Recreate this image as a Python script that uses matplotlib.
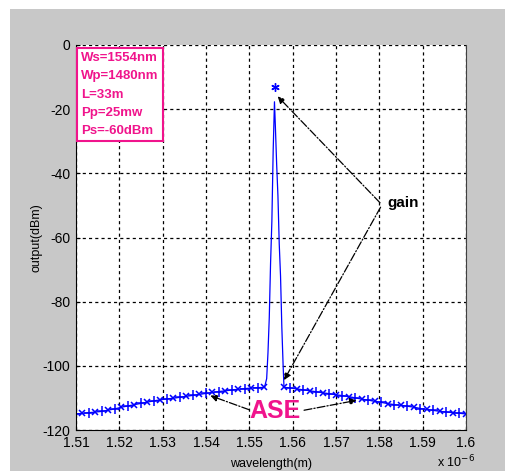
import matplotlib
matplotlib.use('Agg')
import matplotlib.pyplot as plt
from matplotlib.patches import Rectangle
from matplotlib import font_manager
import numpy as np

# ASE spectrum (wavelength in um, power in dBm), left and right of the signal
ase_x = [1.5100, 1.5115, 1.5130, 1.5145, 1.5160, 1.5175, 1.5190, 1.5205, 1.5220, 1.5235,
         1.5250, 1.5265, 1.5280, 1.5295, 1.5310, 1.5325, 1.5340, 1.5355, 1.5370, 1.5385,
         1.5400, 1.5415, 1.5430, 1.5445, 1.5460, 1.5475, 1.5490, 1.5505, 1.5520, 1.5535,
         np.nan,
         1.5580, 1.5595, 1.5610, 1.5625, 1.5640, 1.5655, 1.5670, 1.5685, 1.5700, 1.5715,
         1.5730, 1.5745, 1.5760, 1.5775, 1.5790, 1.5805, 1.5820, 1.5835, 1.5850, 1.5865,
         1.5880, 1.5895, 1.5910, 1.5925, 1.5940, 1.5955, 1.5970, 1.5985, 1.6000]
ase_y = [-115.0, -114.8, -114.6, -114.4, -114.2, -113.8, -113.4, -112.9, -112.5, -112.1,
         -111.7, -111.3, -110.9, -110.6, -110.3, -110.1, -109.8, -109.5, -109.2, -108.9,
         -108.6, -108.3, -108.0, -107.8, -107.5, -107.3, -107.1, -106.9, -106.8, -106.7,
         np.nan,
         -106.7, -106.9, -107.2, -107.5, -107.8, -108.1, -108.4, -108.7, -109.0, -109.3,
         -109.6, -110.0, -110.4, -110.7, -111.1, -111.4, -111.8, -112.1, -112.3, -112.6,
         -112.9, -113.3, -113.6, -113.9, -114.2, -114.4, -114.6, -114.8, -115.0]

# amplified signal spike
gain_x = [1.5535, 1.5540, 1.5543, 1.5546, 1.5549, 1.5552, 1.5555, 1.5558, 1.5560,
          1.5563, 1.5566, 1.5569, 1.5572, 1.5575, 1.5578, 1.5580]
gain_y = [-106.7, -104, -96, -85, -68, -55, -33, -17.7, -25,
          -37, -47, -62, -72, -88, -100, -106.7]
peak_x = 1.5559
peak_y = -13

xticks = [1.51, 1.52, 1.53, 1.54, 1.55, 1.56, 1.57, 1.58, 1.59, 1.60]
yticks = [0, -20, -40, -60, -80, -100, -120]
params = ['Ws=1554nm', 'Wp=1480nm', 'L=33m', 'Pp=25mw', 'Ps=-60dBm']

names = [f.name for f in font_manager.fontManager.ttflist]
narrow = 'Liberation Sans Narrow' if 'Liberation Sans Narrow' in names else 'Liberation Sans'
plt.rcParams['font.family'] = [narrow, 'DejaVu Sans']
plt.rcParams['axes.unicode_minus'] = False

blue = '#0000ff'
pink = '#f0148c'

fig = plt.figure(figsize=(5.05, 4.71), dpi=100, facecolor='white')
# grey matlab window background
fig.patches.append(Rectangle((10 / 505, 0), 1, 1 - 9 / 471, transform=fig.transFigure,
                             facecolor='#c8c8c8', edgecolor='none', zorder=-5))
ax = fig.add_axes([76 / 505, 1 - 430 / 471, 390 / 505, 385 / 471])
ax.set_zorder(2)
ax.set_facecolor('white')

ax.plot(ase_x, ase_y, color=blue, lw=0.9)
ax.plot(ase_x[0::2], ase_y[0::2], ls='none', marker='+', ms=6.5, mew=1.1, color=blue)
ax.plot(ase_x[1::2], ase_y[1::2], ls='none', marker='x', ms=4.5, mew=1.1, color=blue)
ax.plot(gain_x, gain_y, color=blue, lw=0.9)
ax.plot([peak_x], [peak_y], ls='none', marker=(6, 2, 0), ms=6, mew=1, color=blue)

ax.set_xlim(1.51, 1.60)
ax.set_ylim(-120, 0)
ax.set_xticks(xticks)
ax.set_xticklabels(['%g' % t for t in xticks])
ax.set_yticks(yticks)
ax.set_yticklabels([str(t) for t in yticks])
ax.tick_params(direction='in', length=3, labelsize=10, pad=4)
ax.grid(True, color='black', ls=(0, (2.5, 2.5)), lw=0.9)
ax.spines['top'].set_visible(False)
ax.spines['right'].set_color('#404040')
for s in ['left', 'bottom']:
    ax.spines[s].set_color('black')

ax.set_xlabel('wavelength(m)', fontsize=9, labelpad=6)
ax.set_ylabel('output(dBm)', fontsize=9, labelpad=0)
fig.text(437 / 505, 1 - 462 / 471, r'x 10$^{-6}$', fontsize=9, va='center')

# parameter box
ax.text(0.013, 0.982, '\n'.join(params), transform=ax.transAxes, color=pink,
        fontsize=9.5, fontweight='bold', va='top', ha='left', linespacing=1.7,
        bbox=dict(facecolor='white', edgecolor=pink, lw=1.5, boxstyle='square,pad=0.3'))

arrow = dict(arrowstyle='-|>', color='black', lw=0.9, ls='-.', mutation_scale=10)
ax.annotate('', xy=(1.5561, -15.4), xytext=(1.5806, -49.8), arrowprops=arrow)
ax.annotate('', xy=(1.5577, -105.2), xytext=(1.5806, -49.8), arrowprops=arrow)
ax.text(1.5818, -49.2, 'gain', fontsize=11, fontweight='bold', va='center', ha='left')

ax.text(1.5560, -114.0, 'ASE', color=pink, fontsize=18, fontweight='bold',
        va='center', ha='center')
ax.annotate('', xy=(1.5404, -109.0), xytext=(1.5506, -114.0), arrowprops=arrow)
ax.annotate('', xy=(1.5754, -110.6), xytext=(1.5620, -114.0), arrowprops=arrow)

fig.savefig('out.png', dpi=100)
